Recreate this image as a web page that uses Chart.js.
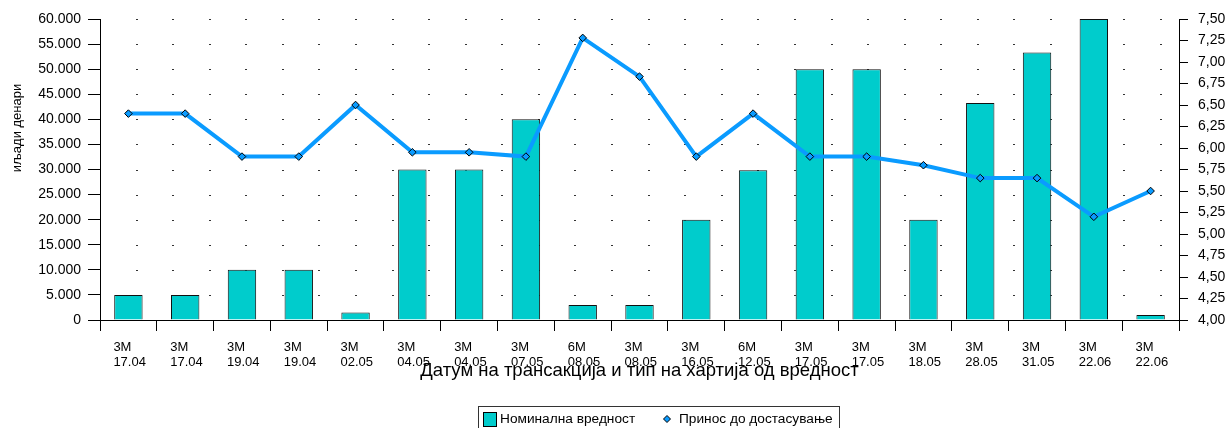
<!DOCTYPE html>
<html>
<head>
<meta charset="utf-8">
<script src="https://cdn.jsdelivr.net/npm/chart.js@4.4.1/dist/chart.umd.min.js"></script>
<style>
  html, body { margin: 0; padding: 0; background: #fff; }
  #wrap { width: 1230px; height: 428px; position: relative; }
</style>
</head>
<body>
<div id="wrap"><canvas id="c" width="1230" height="428"></canvas></div>
<script>
// ---- data ----
const terms = ["3M","3M","3M","3M","3M","3M","3M","3M","6M","3M","3M","6M","3M","3M","3M","3M","3M","3M","3M"];
const dates = ["17.04","17.04","19.04","19.04","02.05","04.05","04.05","07.05","08.05","08.05","16.05","12.05","17.05","17.05","18.05","28.05","31.05","22.06","22.06"];
const nominal = [5000,5000,10000,10000,1500,30000,30000,40000,3000,3000,20000,29850,50000,50000,20000,43250,53300,60000,1000];
const yieldToMaturity = [6.40,6.40,5.90,5.90,6.50,5.95,5.95,5.90,7.28,6.83,5.90,6.40,5.90,5.90,5.80,5.65,5.65,5.20,5.50];
const seriesNames = ["Номинална вредност", "Принос до достасување"];
const xTitle = "Датум на трансакција и тип на хартија од вредност";
const yTitle = "иљади денари";

const labels = terms.map((t, i) => [t, dates[i]]);
const FONT = "'Liberation Sans', Arial, sans-serif";

const fmtThousands = v => String(Math.round(v)).replace(/\B(?=(\d{3})+(?!\d))/g, '.');

const decor = {
  id: 'decor',
  beforeDatasetsDraw(chart) {
    const ctx = chart.ctx, ca = chart.chartArea, y = chart.scales.y;
    const step = (ca.right - ca.left) / 29.5;
    ctx.save();
    ctx.fillStyle = '#333';
    y.ticks.forEach(t => {
      if (t.value === 0) return;
      const py = Math.round(y.getPixelForValue(t.value));
      for (let k = 1; ca.left + k * step < ca.right - 2; k++) {
        const px = Math.round(ca.left + k * step);
        ctx.fillRect(px - 1, py, 2, 1);
      }
    });
    ctx.restore();
  },
  afterDraw(chart) {
    const ctx = chart.ctx;
    ctx.save();
    // y axis title
    ctx.font = "13px " + FONT;
    ctx.fillStyle = '#000';
    ctx.textAlign = 'center';
    ctx.textBaseline = 'middle';
    ctx.translate(17, 128);
    ctx.rotate(-Math.PI / 2);
    ctx.fillText(yTitle, 0, 0);
    ctx.restore();

    // legend
    const ds = chart.data.datasets;
    const barDs = ds.find(d => d.type === 'bar');
    const lineDs = ds.find(d => d.type === 'line');
    ctx.save();
    ctx.strokeStyle = '#333';
    ctx.lineWidth = 1;
    ctx.strokeRect(478.5, 406.5, 361, 30);
    ctx.fillStyle = barDs.backgroundColor;
    ctx.fillRect(483, 412, 13, 14);
    ctx.strokeStyle = '#000';
    ctx.strokeRect(483.5, 412.5, 13, 14);
    ctx.font = "13.7px " + FONT;
    ctx.fillStyle = '#000';
    ctx.textAlign = 'left';
    ctx.textBaseline = 'middle';
    ctx.fillText(barDs.label, 500, 419);
    // diamond
    const cx = 667, cy = 419, r = 3.5;
    ctx.beginPath();
    ctx.moveTo(cx, cy - r); ctx.lineTo(cx + r, cy); ctx.lineTo(cx, cy + r); ctx.lineTo(cx - r, cy); ctx.closePath();
    ctx.fillStyle = lineDs.pointBackgroundColor;
    ctx.fill();
    ctx.strokeStyle = '#000';
    ctx.stroke();
    ctx.fillStyle = '#000';
    ctx.fillText(lineDs.label, 679, 419);
    ctx.restore();
  }
};

new Chart(document.getElementById('c'), {
  type: 'bar',
  data: {
    labels: labels,
    datasets: [
      {
        type: 'line',
        label: seriesNames[1],
        data: yieldToMaturity,
        yAxisID: 'y1',
        borderColor: '#0a9bff',
        borderWidth: 4,
        pointStyle: 'rectRot',
        pointRadius: 3.8,
        pointBackgroundColor: '#0a9bff',
        pointBorderColor: '#000',
        pointBorderWidth: 1,
        tension: 0,
        order: 0
      },
      {
        type: 'bar',
        label: seriesNames[0],
        data: nominal,
        yAxisID: 'y',
        backgroundColor: '#00CCCC',
        borderColor: '#111',
        borderWidth: 1,
        barPercentage: 0.5,
        categoryPercentage: 1.0,
        order: 1
      }
    ]
  },
  options: {
    responsive: false,
    animation: false,
    layout: { padding: { top: 19, bottom: 22, left: 0, right: 0 } },
    plugins: { legend: { display: false }, tooltip: { enabled: false } },
    scales: {
      x: {
        offset: true,
        grid: { display: true, offset: true, drawOnChartArea: false, drawTicks: true, tickLength: 11, color: '#000', tickColor: '#000' },
        border: { display: true, color: '#000', width: 1 },
        ticks: {
          autoSkip: false, maxRotation: 0, minRotation: 0,
          align: 'start', labelOffset: -15, padding: 9,
          color: '#000',
          font: { family: FONT, size: 13, lineHeight: 1.15 }
        },
        title: {
          display: true, text: xTitle, color: '#000',
          font: { family: FONT, size: 18.5, lineHeight: 1.2 },
          padding: { top: 0, bottom: 24 }
        },
        afterFit(s) { s.height = 86; }
      },
      y: {
        position: 'left',
        min: 0, max: 60000,
        grid: { drawOnChartArea: false, drawTicks: true, tickLength: 12, color: '#000', tickColor: '#000' },
        border: { display: true, color: '#000', width: 1 },
        ticks: {
          stepSize: 5000, padding: 7, color: '#000',
          font: { family: FONT, size: 14 },
          callback: v => fmtThousands(v)
        },
        afterFit(s) { s.width = 100; }
      },
      y1: {
        position: 'right',
        min: 4, max: 7.5,
        grid: { drawOnChartArea: false, drawTicks: true, tickLength: 9, color: '#000', tickColor: '#000' },
        border: { display: true, color: '#000', width: 1 },
        ticks: {
          stepSize: 0.25, padding: 10, color: '#000',
          font: { family: FONT, size: 14 },
          callback: v => v.toFixed(2).replace('.', ',')
        },
        afterFit(s) { s.width = 51; }
      }
    }
  },
  plugins: [decor]
});
</script>
</body>
</html>
